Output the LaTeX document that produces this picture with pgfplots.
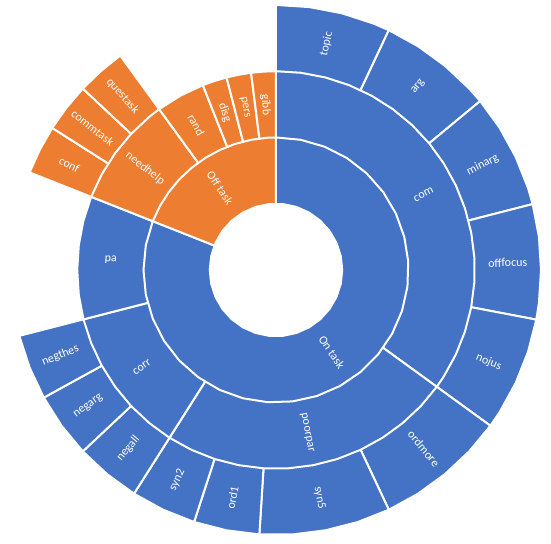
\documentclass[border=0pt]{standalone}
\usepackage{fontspec}
\setmainfont{Carlito}
\usepackage{pgfplots}
\pgfplotsset{compat=1.18}
\usepgfplotslibrary{polar}
\definecolor{sblue}{HTML}{4472C4}
\definecolor{sorange}{HTML}{ED7D31}
\tikzset{lab/.style={text=white, font=\fontsize{9}{10}\selectfont, inner sep=0pt, anchor=center}}
\begin{document}
\begin{tikzpicture}
\begin{polaraxis}[
  hide axis, scale only axis, width=397.5pt, height=397.5pt,
  xmin=0, xmax=360, ymin=0, ymax=4, clip=false,
  every axis plot/.append style={draw=white, line width=1.5pt},
]
% ---- outer ring (leaves), values: 7,7,7,7,7 | 8,8,4,4 | 4,4,4 | 3,3,3 (of 100)
\addplot[fill=sblue] coordinates {(0,0) (90,4) (82.8,4) (75.6,4) (68.4,4) (64.8,4)} -- cycle;
\addplot[fill=sblue] coordinates {(0,0) (64.8,4) (57.6,4) (50.4,4) (43.2,4) (39.6,4)} -- cycle;
\addplot[fill=sblue] coordinates {(0,0) (39.6,4) (32.4,4) (25.2,4) (18,4) (14.4,4)} -- cycle;
\addplot[fill=sblue] coordinates {(0,0) (14.4,4) (7.2,4) (0,4) (-7.2,4) (-10.8,4)} -- cycle;
\addplot[fill=sblue] coordinates {(0,0) (-10.8,4) (-18,4) (-25.2,4) (-32.4,4) (-36,4)} -- cycle;
\addplot[fill=sblue] coordinates {(0,0) (-36,4) (-43.2,4) (-50.4,4) (-57.6,4) (-64.8,4)} -- cycle;
\addplot[fill=sblue] coordinates {(0,0) (-64.8,4) (-72,4) (-79.2,4) (-86.4,4) (-93.6,4)} -- cycle;
\addplot[fill=sblue] coordinates {(0,0) (-93.6,4) (-100.8,4) (-108,4)} -- cycle;
\addplot[fill=sblue] coordinates {(0,0) (-108,4) (-115.2,4) (-122.4,4)} -- cycle;
\addplot[fill=sblue] coordinates {(0,0) (-122.4,4) (-129.6,4) (-136.8,4)} -- cycle;
\addplot[fill=sblue] coordinates {(0,0) (-136.8,4) (-144,4) (-151.2,4)} -- cycle;
\addplot[fill=sblue] coordinates {(0,0) (-151.2,4) (-158.4,4) (-165.6,4)} -- cycle;
\addplot[fill=sorange] coordinates {(0,0) (-201.6,4) (-207,4) (-212.4,4)} -- cycle;
\addplot[fill=sorange] coordinates {(0,0) (-212.4,4) (-217.8,4) (-223.2,4)} -- cycle;
\addplot[fill=sorange] coordinates {(0,0) (-223.2,4) (-228.6,4) (-234,4)} -- cycle;
% ---- middle ring, values: com 35, poorpar 24, corr 12, pa 10 | needhelp 9, rand 4, disg 2, pers 2, gibb 2
\addplot[fill=sblue] coordinates {(0,0) (90,3) (82.8,3) (75.6,3) (68.4,3) (61.2,3) (54,3) (46.8,3) (39.6,3) (32.4,3) (25.2,3) (18,3) (10.8,3) (3.6,3) (-3.6,3) (-10.8,3) (-18,3) (-25.2,3) (-32.4,3) (-36,3)} -- cycle;
\addplot[fill=sblue] coordinates {(0,0) (-36,3) (-43.2,3) (-50.4,3) (-57.6,3) (-64.8,3) (-72,3) (-79.2,3) (-86.4,3) (-93.6,3) (-100.8,3) (-108,3) (-115.2,3) (-122.4,3)} -- cycle;
\addplot[fill=sblue] coordinates {(0,0) (-122.4,3) (-129.6,3) (-136.8,3) (-144,3) (-151.2,3) (-158.4,3) (-165.6,3)} -- cycle;
\addplot[fill=sblue] coordinates {(0,0) (-165.6,3) (-172.8,3) (-180,3) (-187.2,3) (-194.4,3) (-201.6,3)} -- cycle;
\addplot[fill=sorange] coordinates {(0,0) (-201.6,3) (-208.8,3) (-216,3) (-223.2,3) (-230.4,3) (-234,3)} -- cycle;
\addplot[fill=sorange] coordinates {(0,0) (-234,3) (-241.2,3) (-248.4,3)} -- cycle;
\addplot[fill=sorange] coordinates {(0,0) (-248.4,3) (-252,3) (-255.6,3)} -- cycle;
\addplot[fill=sorange] coordinates {(0,0) (-255.6,3) (-259.2,3) (-262.8,3)} -- cycle;
\addplot[fill=sorange] coordinates {(0,0) (-262.8,3) (-266.4,3) (-270,3)} -- cycle;
% ---- inner ring, values: On task 81, Off task 19
\addplot[fill=sblue] coordinates {(0,0) (90,2) (79.2,2) (68.4,2) (57.6,2) (46.8,2) (36,2) (25.2,2) (14.4,2) (3.6,2) (-7.2,2) (-18,2) (-28.8,2) (-39.6,2) (-50.4,2) (-61.2,2) (-72,2) (-82.8,2) (-93.6,2) (-104.4,2) (-115.2,2) (-126,2) (-136.8,2) (-147.6,2) (-158.4,2) (-169.2,2) (-180,2) (-190.8,2) (-201.6,2)} -- cycle;
\addplot[fill=sorange] coordinates {(0,0) (-201.6,2) (-208.8,2) (-216,2) (-223.2,2) (-230.4,2) (-237.6,2) (-244.8,2) (-252,2) (-259.2,2) (-266.4,2) (-270,2)} -- cycle;
% ---- hole
\addplot[fill=white] coordinates {(0,1) (12,1) (24,1) (36,1) (48,1) (60,1) (72,1) (84,1) (96,1) (108,1) (120,1) (132,1) (144,1) (156,1) (168,1) (180,1) (192,1) (204,1) (216,1) (228,1) (240,1) (252,1) (264,1) (276,1) (288,1) (300,1) (312,1) (324,1) (336,1) (348,1) (360,1)} -- cycle;
% ---- labels
\node[lab, rotate=77.4] at (axis cs:77.4,3.5) {topic};
\node[lab, rotate=52.2] at (axis cs:52.2,3.5) {arg};
\node[lab, rotate=27] at (axis cs:27,3.5) {minarg};
\node[lab, rotate=1.8] at (axis cs:1.8,3.5) {offfocus};
\node[lab, rotate=-23.4] at (axis cs:-23.4,3.5) {nojus};
\node[lab, rotate=-50.4] at (axis cs:-50.4,3.5) {ordmore};
\node[lab, rotate=-79.2] at (axis cs:-79.2,3.5) {syn5};
\node[lab, rotate=79.2] at (axis cs:-100.8,3.5) {ord1};
\node[lab, rotate=64.8] at (axis cs:-115.2,3.5) {syn2};
\node[lab, rotate=50.4] at (axis cs:-129.6,3.5) {negall};
\node[lab, rotate=36] at (axis cs:-144,3.5) {negarg};
\node[lab, rotate=21.6] at (axis cs:-158.4,3.5) {negthes};
\node[lab, rotate=-27] at (axis cs:-207,3.5) {conf};
\node[lab, rotate=-37.8] at (axis cs:-217.8,3.5) {commtask};
\node[lab, rotate=-48.6] at (axis cs:-228.6,3.5) {questask};
\node[lab, rotate=27] at (axis cs:27,2.5) {com};
\node[lab, rotate=-79.2] at (axis cs:-79.2,2.5) {poorpar};
\node[lab, rotate=36] at (axis cs:-144,2.5) {corr};
\node[lab, rotate=-3.6] at (axis cs:-183.6,2.5) {pa};
\node[lab, rotate=-37.8] at (axis cs:-217.8,2.5) {needhelp};
\node[lab, rotate=-61.2] at (axis cs:-241.2,2.5) {rand};
\node[lab, rotate=-72] at (axis cs:-252,2.5) {disg};
\node[lab, rotate=-79.2] at (axis cs:-259.2,2.5) {pers};
\node[lab, rotate=-86.4] at (axis cs:-266.4,2.5) {gibb};
\node[lab, rotate=-55.8] at (axis cs:-55.8,1.5) {On task};
\node[lab, rotate=-55.8] at (axis cs:-235.8,1.5) {Off task};
\coordinate (bl) at (axis cs:224.79,5.870);
\coordinate (tr) at (axis cs:44.47,5.817);
\end{polaraxis}
\pgfresetboundingbox
\path (bl) rectangle (tr);
\end{tikzpicture}
\end{document}
